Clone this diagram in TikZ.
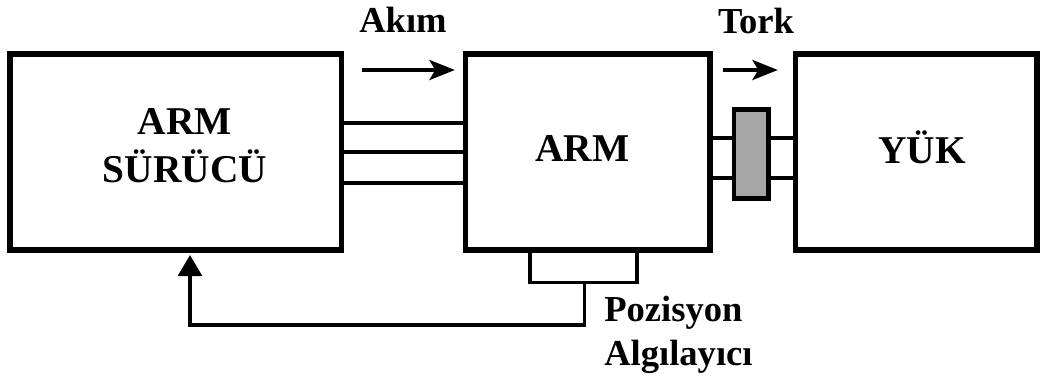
\documentclass[tikz,border=0pt]{standalone}
\usepackage{fontspec}
\setmainfont{Liberation Serif}
\usetikzlibrary{calc,positioning,arrows.meta}
\definecolor{cplgray}{RGB}{166,166,166}
\tikzset{
  blockbox/.style={draw,line width=3.9pt,outer sep=0pt,inner sep=0pt,minimum height=4.9cm},
  wireline/.style={line width=3.2pt},
  thinline/.style={line width=2.5pt},
  flowarrow/.style={line width=3.5pt,-{Stealth[length=18pt,width=14pt,inset=4pt]}},
  backarrow/.style={thinline,-{Triangle[length=15pt,width=17pt]}},
  bigfont/.style={font=\fontsize{28}{34}\selectfont\bfseries},
  smallfont/.style={font=\fontsize{26}{31}\selectfont\bfseries},
}

\begin{document}
\begin{tikzpicture}[x=0.025cm,y=-0.025cm]
  \useasboundingbox (0,0) rectangle (1041,378);
  \node[blockbox,minimum width=8.2875cm] (drv) at (175.75,152) {};
  \node[blockbox,minimum width=6.1125cm] (arm) at (587.75,152) {};
  \node[blockbox,minimum width=6.0375cm] (yuk) at (916.25,152) {};
  \foreach \dy in {-29,0,31}
    \draw[wireline] ($(drv.east)+(0,\dy)$) -- ($(arm.west)+(0,\dy)$);
  \foreach \dy in {-14,26}
    \draw[wireline] ($(arm.east)+(0,\dy)$) -- ($(yuk.west)+(0,\dy)$);
  \node[draw,line width=3.5pt,fill=cplgray,inner sep=0pt,
        minimum width=0.8625cm,minimum height=2.225cm] (cpl) at (751.25,154) {};
  \coordinate (sns) at (584.5,282.5);
  \draw[thinline] ($(arm.south)+(-57.75,0)$) |- ($(sns)+(52.5,0)$) -- ($(arm.south)+(49.25,0)$);
  \draw[backarrow] (sns) -- ++(0,42.5) -| ($(drv.south)+(14.25,5)$);
  \draw[flowarrow] ($(drv.north east)+(20.5,16)$) -- ($(arm.north west)+(-10.5,16)$);
  \draw[flowarrow] ($(arm.north east)+(13,16)$) -- ($(yuk.north west)+(-17.5,16)$);
  \node[smallfont,anchor=base] (akim) at (403,32) {Akım};
  \node[smallfont,anchor=base] (tork) at (756,33) {Tork};
  \node[bigfont,align=center] (drvtxt) at (185,146) {ARM\\SÜRÜCÜ};
  \node[bigfont,anchor=base] (armtxt) at (582.5,161) {ARM};
  \node[bigfont,anchor=base] (yuktxt) at (922,163) {YÜK};
  \node[smallfont,align=left,anchor=west,inner sep=0pt] (snstxt) at (604,335) {Pozisyon\\Algılayıcı};
\end{tikzpicture}
\end{document}
